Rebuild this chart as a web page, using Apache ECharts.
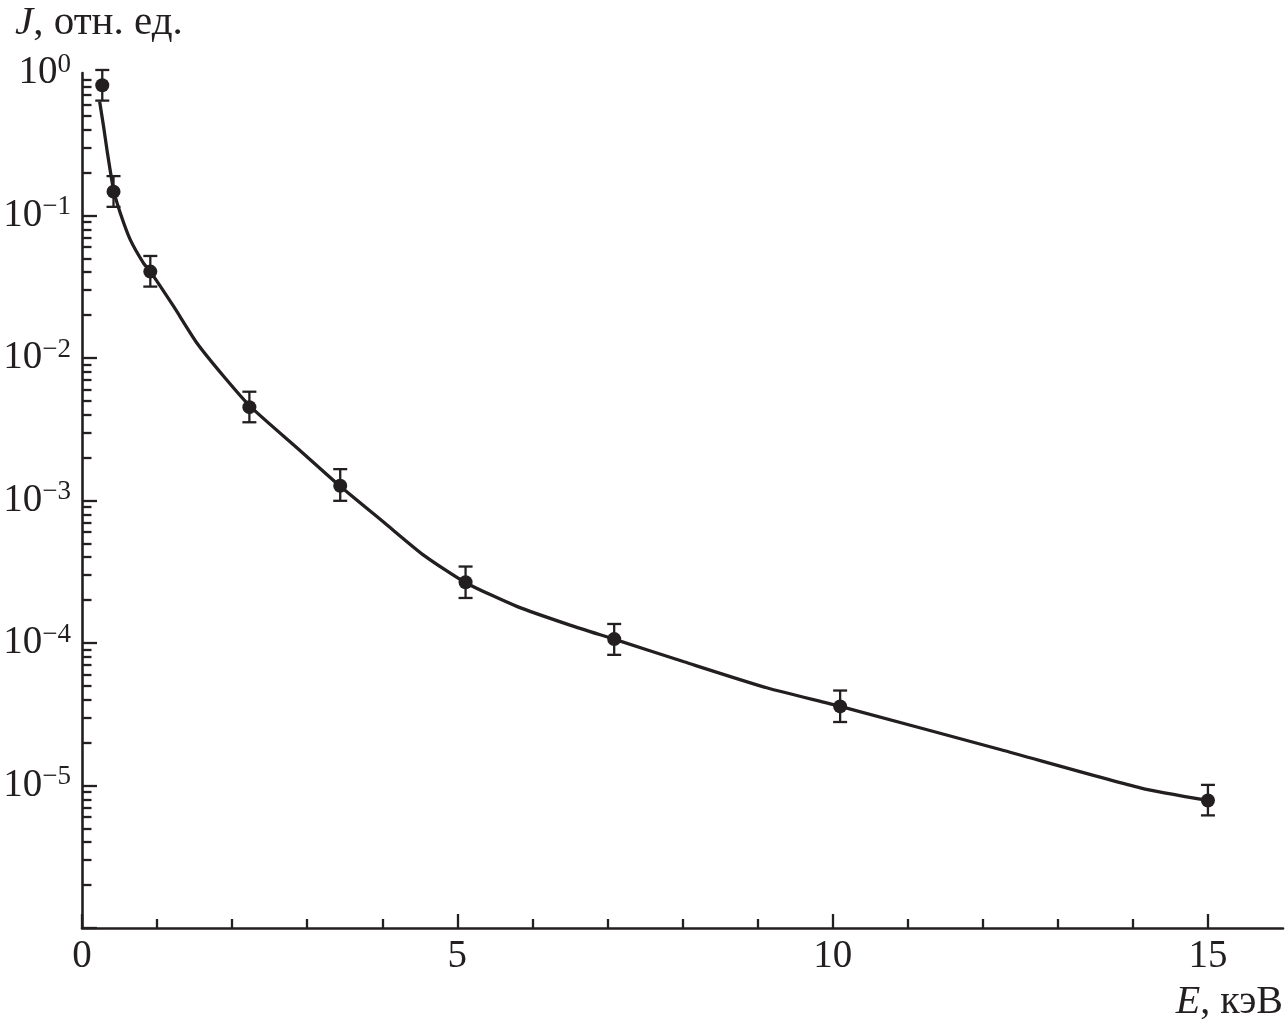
<!DOCTYPE html>
<html><head><meta charset="utf-8">
<script src="https://cdn.jsdelivr.net/npm/echarts@6/dist/echarts.min.js"></script>
<style>html,body{margin:0;padding:0;background:#fff}#c{width:1286px;height:1029px}</style>
</head><body><div id="c"></div>
<script>
// Measured points (E in keV, J in relative units)
const energy    = [0.27, 0.42, 0.91, 2.23, 3.44, 5.11, 7.09, 10.10, 15.0];
const intensity = [0.82, 0.147, 0.0404, 0.00452, 0.00127, 2.67e-4, 1.065e-4, 3.59e-5, 7.85e-6];
const errLow    = [0.64, 0.115, 0.0317, 0.00354, 0.000995, 2.07e-4, 8.26e-5, 2.79e-5, 6.17e-6];
const errHigh   = [1.05, 0.189, 0.052, 0.0058, 0.00166, 3.44e-4, 1.36e-4, 4.64e-5, 1.01e-5];
// Fitted curve
const fitEnergy = [0.235, 0.288, 0.333, 0.421, 0.511, 0.644, 0.821, 0.911, 1.221, 1.533, 1.884, 2.244, 2.911, 3.444, 4.021, 4.555, 5.111, 5.8, 6.511, 7.088, 8.021, 9.133, 10.101, 12.244, 14.111, 15.0];
const fitIntensity = [0.630, 0.420, 0.288, 0.151, 0.1038, 0.0675, 0.0462, 0.0404, 0.0230, 0.0127, 0.00748, 0.00456, 0.002228, 0.001253, 7.03e-4, 4.12e-4, 2.65e-4, 1.80e-4, 1.33e-4, 1.064e-4, 7.38e-5, 4.83e-5, 3.59e-5, 1.782e-5, 9.59e-6, 7.85e-6];
// Axis ticks
const xTickLabels = [0, 5, 10, 15];
const yLabelExponents = [0, -1, -2, -3, -4, -5];
const yMajorExponents = [-6, -5, -4, -3, -2, -1];
const yMinorMultipliers = [2, 3, 4, 5, 6, 7, 8, 9];
const yTitle = ', отн. ед.';
const xTitle = ', кэВ';

const ink = '#231f20';
const serif = "'Liberation Serif', 'DejaVu Serif', serif";
const lg = v => Math.log10(v);

const yMinorVals = [];
for (let d = -6; d < 0; d++) yMinorMultipliers.forEach(m => yMinorVals.push(d + lg(m)));

const chart = echarts.init(document.getElementById('c'), null, {renderer: 'canvas'});
const tickLine = {color: ink, width: 2.3};

chart.setOption({
  animation: false,
  backgroundColor: '#fff',
  grid: {left: 82, right: 3, top: 73, bottom: 101, containLabel: false},
  xAxis: {
    type: 'value', min: 0, max: 16, interval: 5,
    axisLine: {show: true, onZero: false, lineStyle: {color: ink, width: 2.6}},
    axisTick: {show: true, inside: true, length: 14, customValues: [0, 5, 10, 15], lineStyle: tickLine},
    minorTick: {show: true, splitNumber: 5, length: 9, lineStyle: tickLine},
    axisLabel: {customValues: xTickLabels, fontSize: 39, fontFamily: serif, color: ink, margin: 9},
    splitLine: {show: false}, minorSplitLine: {show: false}
  },
  yAxis: [{
    type: 'value', min: -6, max: 0, interval: 1, position: 'left',
    axisLine: {show: true, onZero: false, lineStyle: {color: ink, width: 2.6}},
    axisTick: {show: true, inside: true, length: 15, customValues: yMajorExponents, lineStyle: tickLine},
    axisLabel: {
      customValues: yLabelExponents, margin: 11,
      formatter: v => '{b|10}{s|' + (v < 0 ? '\u2212' + (-v) : '0') + '}',
      rich: {
        b: {fontSize: 39, fontFamily: serif, color: ink, lineHeight: 44},
        s: {fontSize: 27, fontFamily: serif, color: ink, lineHeight: 27, verticalAlign: 'top'}
      }
    },
    splitLine: {show: false}
  }, {
    type: 'value', min: -6, max: 0, position: 'left', offset: 0,
    axisLine: {show: false},
    axisTick: {show: true, inside: true, length: 9.5, customValues: yMinorVals, lineStyle: tickLine},
    axisLabel: {show: false},
    splitLine: {show: false}
  }],
  graphic: [
    {type: 'text', left: 15, top: 3, style: {
      text: '{i|J}{n|' + yTitle + '}',
      rich: {
        i: {fontSize: 41, fontFamily: serif, fontStyle: 'italic', fill: ink},
        n: {fontSize: 41, fontFamily: serif, fill: ink}
      }}},
    {type: 'text', right: 3, top: 982, style: {
      text: '{i|E}{n|' + xTitle + '}',
      rich: {
        i: {fontSize: 40, fontFamily: serif, fontStyle: 'italic', fill: ink},
        n: {fontSize: 40, fontFamily: serif, fill: ink}
      }}}
  ],
  series: [{
    type: 'line', name: 'fit',
    data: fitEnergy.map((e, i) => [e, lg(fitIntensity[i])]),
    showSymbol: false, smooth: 0.2, lineStyle: {color: ink, width: 3.3}, z: 2
  }, {
    type: 'custom', name: 'err',
    data: energy.map((e, i) => [e, lg(errLow[i]), lg(errHigh[i])]),
    renderItem: (params, api) => {
      const lo = api.coord([api.value(0), api.value(1)]);
      const hi = api.coord([api.value(0), api.value(2)]);
      const w = 7;
      const st = {stroke: ink, lineWidth: 2.3};
      return {type: 'group', children: [
        {type: 'line', shape: {x1: lo[0], y1: lo[1], x2: hi[0], y2: hi[1]}, style: st},
        {type: 'line', shape: {x1: lo[0] - w, y1: lo[1], x2: lo[0] + w, y2: lo[1]}, style: st},
        {type: 'line', shape: {x1: hi[0] - w, y1: hi[1], x2: hi[0] + w, y2: hi[1]}, style: st}
      ]};
    },
    z: 3
  }, {
    type: 'scatter', name: 'data',
    data: energy.map((e, i) => [e, lg(intensity[i])]),
    symbol: 'circle', symbolSize: 14, itemStyle: {color: ink, opacity: 1}, z: 4
  }]
});
</script></body></html>
